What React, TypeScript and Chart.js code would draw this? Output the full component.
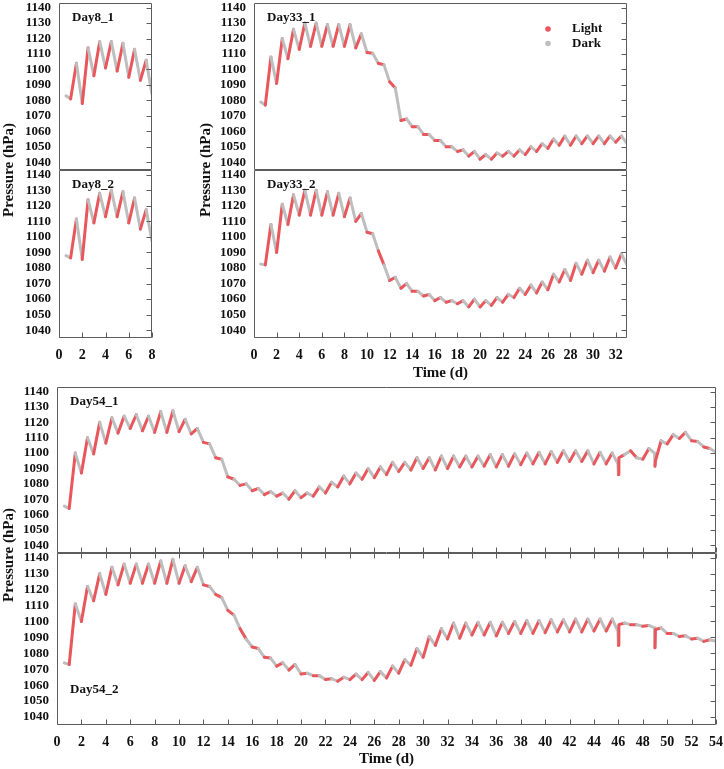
import { useEffect, useRef } from 'react';
import { Chart, registerables } from 'chart.js';

Chart.register(...registerables);

// ---- Pressure records (hPa). Light phase runs from day d to d + 0.5, dark from d + 0.5 to d + 1.
// troughs[i] is the reading at the start of light on day i + 1 (the last one is the final reading),
// peaks[i] is the reading at the end of that light phase. Dips: [day, dip, value right after].
const SERIES_START_DAY = 0.6;

const day8_1Start = 1083;
const day8_1Troughs = [1081, 1078, 1096, 1101, 1099, 1095, 1093, 1084];
const day8_1Peaks = [1104, 1114, 1118, 1118, 1117, 1113, 1106];

const day8_2Start = 1088;
const day8_2Troughs = [1086.5, 1085.5, 1109, 1113, 1113, 1109, 1105, 1097];
const day8_2Peaks = [1111.5, 1124, 1128, 1130, 1129, 1125, 1117.5];

const day33_1Start = 1079;
const day33_1Troughs = [
  1077, 1091, 1107, 1113, 1115, 1115, 1115, 1115, 1114, 1111, 1104, 1092, 1067, 1063, 1058, 1054,
  1050, 1047, 1044, 1042, 1042, 1044, 1044, 1045, 1047, 1049, 1051, 1051, 1052, 1052, 1052, 1053, 1052,
];
const day33_1Peaks = [
  1108, 1120, 1126, 1130, 1130, 1129, 1129, 1129, 1123, 1110.5, 1103, 1088, 1068, 1063, 1058, 1054,
  1050, 1048, 1047, 1045, 1046, 1047, 1048, 1050, 1052, 1055, 1057, 1057, 1057, 1057, 1057, 1057,
];

const day33_2Start = 1082.5;
const day33_2Troughs = [
  1082, 1090, 1108, 1114, 1114, 1114, 1114, 1113, 1110, 1103, 1091, 1072, 1067, 1065, 1062, 1059,
  1058, 1057, 1055, 1055, 1056, 1058, 1061, 1063, 1064, 1066, 1071, 1072, 1076, 1077, 1078, 1080, 1082,
];
const day33_2Peaks = [
  1108, 1121, 1127, 1130, 1130, 1129, 1128, 1125, 1115, 1102, 1082, 1074, 1070, 1065, 1063, 1061,
  1059, 1059, 1060, 1059, 1061, 1063, 1067, 1069, 1071, 1076, 1079, 1083, 1085, 1085, 1087, 1089,
];

const day54_1Start = 1065.5;
const day54_1Troughs = [
  1064, 1087, 1099.5, 1106.5, 1113, 1116, 1114.5, 1113.5, 1113.5, 1114, 1112.5, 1107, 1097, 1084.5,
  1079, 1075.5, 1073, 1072, 1070, 1071, 1072, 1074, 1078, 1080, 1083, 1084, 1086, 1088, 1089, 1090,
  1089, 1090, 1091, 1091, 1091.5, 1091, 1091.5, 1092.5, 1093, 1093, 1094, 1094.5, 1094.5, 1093, 1093,
  1093, 1101.5, 1096, 1100, 1106, 1109.5, 1108, 1104, 1100.5,
];
const day54_1Peaks = [
  1100, 1110, 1120, 1123, 1124, 1125, 1124, 1127, 1127.5, 1122, 1116, 1106, 1096, 1083, 1080, 1077,
  1075, 1074, 1075.5, 1074, 1078, 1081, 1085, 1087, 1090, 1091, 1094, 1094, 1097, 1097, 1098, 1098,
  1098, 1098, 1099, 1099, 1099.5, 1100, 1100.5, 1101, 1101.5, 1101.5, 1101.5, 1100.5, 1100, 1099,
  1097, 1103, 1108, 1112, 1113.5, 1107.5, 1103,
];
const day54_1Dips = [
  [46, 1086, 1097],
  [49, 1091.5, 1095],
];

const day54_2Start = 1074;
const day54_2Troughs = [
  1073, 1100, 1113, 1117, 1123, 1124, 1124, 1124, 1124, 1124, 1125, 1123, 1117, 1107, 1095.5, 1084,
  1077.5, 1072, 1069.5, 1067, 1066, 1063.5, 1062.5, 1063.5, 1063.5, 1063, 1064.5, 1067.5, 1072.5,
  1077.5, 1085, 1089, 1089.5, 1091.5, 1091.5, 1091, 1092.5, 1092.5, 1092.5, 1093, 1093.5, 1093.5,
  1093.5, 1094, 1094, 1094, 1098, 1097, 1096, 1092.5, 1090.5, 1089, 1087.5, 1087.5,
];
const day54_2Peaks = [
  1111, 1122, 1130, 1134, 1136, 1136, 1136, 1138, 1139, 1135, 1134, 1122, 1115, 1104, 1089, 1083,
  1077, 1074, 1073, 1067.5, 1066, 1064, 1065, 1067, 1068, 1068.5, 1072, 1076, 1083, 1090.5, 1095.5,
  1099, 1099, 1099.5, 1099.5, 1099.5, 1100, 1100.5, 1100.5, 1101, 1101, 1101.5, 1101.5, 1101.5,
  1101.5, 1099, 1098, 1097.5, 1096, 1092.5, 1091, 1089.5, 1088.5,
];
const day54_2Dips = [
  [46, 1085, 1098],
  [49, 1083.5, 1095],
];

// ---- Axis ticks
const pressureTicks = [1040, 1050, 1060, 1070, 1080, 1090, 1100, 1110, 1120, 1130, 1140];
const day8Ticks = [0, 2, 4, 6, 8];
const day33Ticks = [0, 2, 4, 6, 8, 10, 12, 14, 16, 18, 20, 22, 24, 26, 28, 30, 32];
const day54Ticks = [
  0, 2, 4, 6, 8, 10, 12, 14, 16, 18, 20, 22, 24, 26, 28, 30, 32, 34, 36, 38, 40, 42, 44, 46, 48, 50,
  52, 54,
];

const PRESSURE_MIN = 1035;
const PRESSURE_MAX = 1143;

const RED = '#e9565b';
const GRAY = '#bebebe';
const FRAME = '#5c5c5c';
const SERIF = '"Liberation Serif", "Times New Roman", serif';
const DIP_WIDTH = 0.04;

type Pt = { x: number; y: number };

function buildSeries(start: number, troughs: number[], peaks: number[], dips: number[][] = []): Pt[] {
  const pts: Pt[] = [{ x: SERIES_START_DAY, y: start }];
  troughs.forEach((v, i) => {
    const day = i + 1;
    const dip = dips.find((d) => d[0] === day);
    if (dip) {
      pts.push({ x: day - DIP_WIDTH, y: v }, { x: day, y: dip[1] }, { x: day + DIP_WIDTH, y: dip[2] });
    } else {
      pts.push({ x: day, y: v });
    }
    if (i < peaks.length) pts.push({ x: day + 0.5, y: peaks[i] });
  });
  return pts;
}

function isLight(x: number) {
  if (x < 1 - 1e-9) return false;
  const f = x - Math.floor(x + 1e-9);
  return f > -1e-9 && f < 0.5 - 1e-9;
}

type PanelSpec = {
  id: string;
  label: string;
  labelAt: 'top' | 'bottom';
  box: { left: number; top: number; width: number; height: number };
  pad: { top: number; right: number; bottom: number };
  yAxisW: number;
  xAxisH: number;
  xMax: number;
  xTicks: number[];
  showXLabels: boolean;
  showXTitle: boolean;
  topTicks: boolean;
  bottomTicks: boolean;
  legend: boolean;
  points: Pt[];
};

function clearScalePadding(s: any) {
  s.paddingTop = 0;
  s.paddingBottom = 0;
  s.paddingLeft = 0;
  s.paddingRight = 0;
}

const framePlugin = {
  id: 'panelFrame',
  afterDraw(chart: any, _args: any, opts: any) {
    const { ctx, chartArea: a, scales } = chart;
    const L = Math.round(a.left) + 0.5;
    const R = Math.round(a.right) - 0.5;
    const T = Math.round(a.top) + 0.5;
    const B = Math.round(a.bottom) - 0.5;
    ctx.save();
    ctx.strokeStyle = FRAME;
    ctx.lineWidth = 1;
    ctx.beginPath();
    ctx.rect(L, T, R - L, B - T);
    // inward ticks on the right edge
    scales.y.ticks.forEach((t: any) => {
      const y = Math.round(scales.y.getPixelForValue(t.value)) + 0.5;
      ctx.moveTo(R, y);
      ctx.lineTo(R - 5, y);
    });
    scales.x.ticks.forEach((t: any) => {
      const x = Math.round(scales.x.getPixelForValue(t.value)) + 0.5;
      if (opts.bottomTicks) {
        ctx.moveTo(x, B);
        ctx.lineTo(x, B - 5);
      }
      if (opts.topTicks) {
        ctx.moveTo(x, T);
        ctx.lineTo(x, T + 5);
      }
    });
    ctx.stroke();

    ctx.fillStyle = '#111';
    ctx.font = `bold 13px ${SERIF}`;
    ctx.textBaseline = 'middle';
    ctx.textAlign = 'left';
    const ly = opts.labelAt === 'top' ? a.top + 15 : a.bottom - 35;
    ctx.fillText(opts.label, a.left + 13, ly);

    if (opts.legend) {
      const entries: [string, string][] = [
        ['Light', RED],
        ['Dark', GRAY],
      ];
      entries.forEach(([name, color], i) => {
        const cy = a.top + 26 + i * 14.5;
        ctx.fillStyle = color;
        ctx.beginPath();
        ctx.arc(a.right - 79, cy, 2.8, 0, Math.PI * 2);
        ctx.fill();
        ctx.fillStyle = '#111';
        ctx.fillText(name, a.right - 55, cy);
      });
    }
    ctx.restore();
  },
};

function buildConfig(spec: PanelSpec): any {
  const tickFont = { family: SERIF, weight: 'bold' as const };
  return {
    type: 'line',
    data: {
      datasets: [
        {
          data: spec.points,
          borderWidth: 3,
          borderColor: GRAY,
          pointRadius: 0,
          tension: 0,
          borderCapStyle: 'round',
          borderJoinStyle: 'round',
          segment: {
            borderColor: (c: any) => (isLight(c.p0.parsed.x) ? RED : GRAY),
          },
        },
      ],
    },
    options: {
      animation: false,
      responsive: false,
      events: [],
      layout: { padding: { top: spec.pad.top, right: spec.pad.right, bottom: spec.pad.bottom, left: 0 } },
      plugins: {
        legend: { display: false },
        tooltip: { enabled: false },
        panelFrame: {
          label: spec.label,
          labelAt: spec.labelAt,
          topTicks: spec.topTicks,
          bottomTicks: spec.bottomTicks,
          legend: spec.legend,
        },
      },
      scales: {
        x: {
          type: 'linear',
          min: 0,
          max: spec.xMax,
          afterBuildTicks: (s: any) => {
            s.ticks = spec.xTicks.map((v) => ({ value: v }));
          },
          afterFit: (s: any) => {
            s.height = spec.xAxisH;
            clearScalePadding(s);
          },
          grid: { display: false, drawTicks: false },
          border: { display: false },
          ticks: {
            display: spec.showXLabels,
            autoSkip: false,
            maxRotation: 0,
            padding: 9,
            color: '#111',
            font: { ...tickFont, size: 14 },
            callback: (v: number) => String(v),
          },
          title: {
            display: spec.showXTitle,
            text: 'Time (d)',
            color: '#111',
            font: { ...tickFont, size: 15 },
            padding: { top: 0, bottom: spec.id === 'd54b' ? 1 : 4 },
          },
        },
        y: {
          type: 'linear',
          min: PRESSURE_MIN,
          max: PRESSURE_MAX,
          afterBuildTicks: (s: any) => {
            s.ticks = pressureTicks.map((v) => ({ value: v }));
          },
          afterFit: (s: any) => {
            s.width = spec.yAxisW;
            clearScalePadding(s);
          },
          grid: { display: false, drawTicks: false },
          border: { display: false },
          ticks: {
            autoSkip: false,
            padding: 8,
            color: '#111',
            font: { ...tickFont, size: 13 },
            callback: (v: number) => String(v),
          },
        },
      },
    },
    plugins: [framePlugin],
  };
}

const panels: PanelSpec[] = [
  {
    id: 'd8a',
    label: 'Day8_1',
    labelAt: 'top',
    box: { left: 0, top: 0, width: 160, height: 172 },
    pad: { top: 3, right: 8, bottom: 2 },
    yAxisW: 59,
    xAxisH: 0,
    xMax: 8,
    xTicks: day8Ticks,
    showXLabels: false,
    showXTitle: false,
    topTicks: false,
    bottomTicks: false,
    legend: false,
    points: buildSeries(day8_1Start, day8_1Troughs, day8_1Peaks),
  },
  {
    id: 'd8b',
    label: 'Day8_2',
    labelAt: 'top',
    box: { left: 0, top: 168, width: 160, height: 200 },
    pad: { top: 2, right: 8, bottom: 0 },
    yAxisW: 59,
    xAxisH: 30,
    xMax: 8,
    xTicks: day8Ticks,
    showXLabels: true,
    showXTitle: false,
    topTicks: false,
    bottomTicks: true,
    legend: false,
    points: buildSeries(day8_2Start, day8_2Troughs, day8_2Peaks),
  },
  {
    id: 'd33a',
    label: 'Day33_1',
    labelAt: 'top',
    box: { left: 195, top: 0, width: 440, height: 172 },
    pad: { top: 3, right: 8, bottom: 2 },
    yAxisW: 59,
    xAxisH: 0,
    xMax: 33,
    xTicks: day33Ticks,
    showXLabels: false,
    showXTitle: false,
    topTicks: false,
    bottomTicks: false,
    legend: true,
    points: buildSeries(day33_1Start, day33_1Troughs, day33_1Peaks),
  },
  {
    id: 'd33b',
    label: 'Day33_2',
    labelAt: 'top',
    box: { left: 195, top: 168, width: 440, height: 218 },
    pad: { top: 2, right: 8, bottom: 0 },
    yAxisW: 59,
    xAxisH: 48,
    xMax: 33,
    xTicks: day33Ticks,
    showXLabels: true,
    showXTitle: true,
    topTicks: false,
    bottomTicks: true,
    legend: false,
    points: buildSeries(day33_2Start, day33_2Troughs, day33_2Peaks),
  },
  {
    id: 'd54a',
    label: 'Day54_1',
    labelAt: 'top',
    box: { left: 0, top: 385, width: 724, height: 170 },
    pad: { top: 2, right: 8, bottom: 2 },
    yAxisW: 57,
    xAxisH: 0,
    xMax: 54,
    xTicks: day54Ticks,
    showXLabels: false,
    showXTitle: false,
    topTicks: false,
    bottomTicks: true,
    legend: false,
    points: buildSeries(day54_1Start, day54_1Troughs, day54_1Peaks, day54_1Dips),
  },
  {
    id: 'd54b',
    label: 'Day54_2',
    labelAt: 'bottom',
    box: { left: 0, top: 551, width: 724, height: 218 },
    pad: { top: 2, right: 8, bottom: 0 },
    yAxisW: 57,
    xAxisH: 44,
    xMax: 54,
    xTicks: day54Ticks,
    showXLabels: true,
    showXTitle: true,
    topTicks: true,
    bottomTicks: true,
    legend: false,
    points: buildSeries(day54_2Start, day54_2Troughs, day54_2Peaks, day54_2Dips),
  },
];

function Panel({ spec }: { spec: PanelSpec }) {
  const ref = useRef<HTMLCanvasElement>(null);
  useEffect(() => {
    const chart = new Chart(ref.current as HTMLCanvasElement, buildConfig(spec));
    return () => chart.destroy();
  }, [spec]);
  const { left, top, width, height } = spec.box;
  return (
    <canvas
      ref={ref}
      width={width}
      height={height}
      style={{ position: 'absolute', left, top, width, height }}
    />
  );
}

function YTitle({ cx, cy }: { cx: number; cy: number }) {
  return (
    <div
      style={{
        position: 'absolute',
        left: cx - 100,
        top: cy - 10,
        width: 200,
        height: 20,
        lineHeight: '20px',
        textAlign: 'center',
        transform: 'rotate(-90deg)',
        font: `bold 15px ${SERIF}`,
        color: '#111',
        whiteSpace: 'nowrap',
      }}
    >
      Pressure (hPa)
    </div>
  );
}

export default function App() {
  return (
    <div
      style={{
        position: 'absolute',
        left: 0,
        top: 0,
        width: 724,
        height: 769,
        overflow: 'hidden',
        background: '#fff',
      }}
    >
      {panels.map((p) => (
        <Panel key={p.id} spec={p} />
      ))}
      <YTitle cx={10} cy={170} />
      <YTitle cx={207} cy={170} />
      <YTitle cx={10} cy={555} />
    </div>
  );
}
